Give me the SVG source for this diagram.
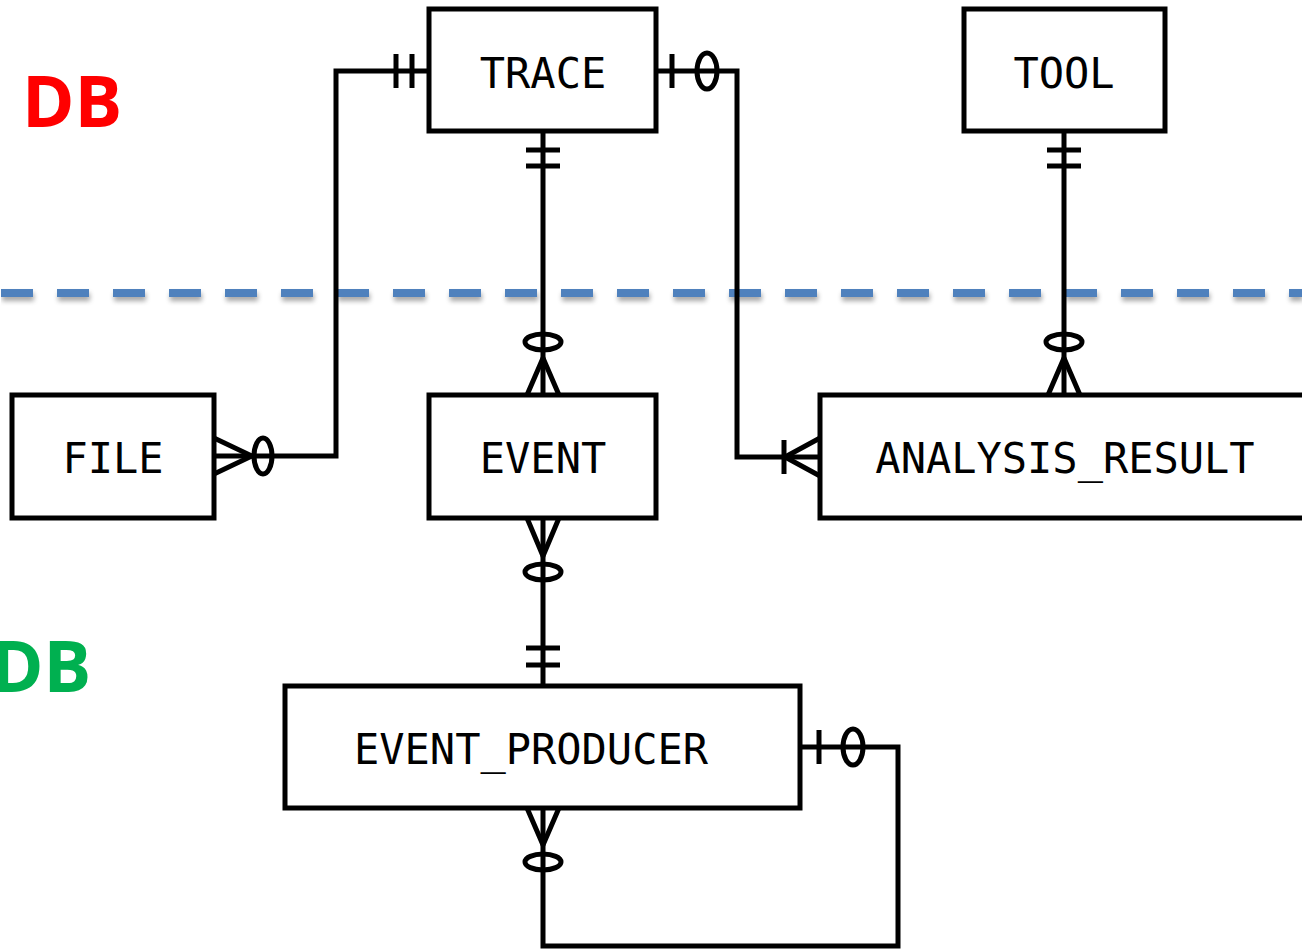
<svg xmlns="http://www.w3.org/2000/svg" width="1302" height="951" viewBox="0 0 1302 951">
<style>
.box{fill:#fff;stroke:#000;stroke-width:5}
.lbl{font-family:"DejaVu Sans Mono",monospace;font-size:42px;fill:#000;text-anchor:middle}
.ln{fill:none;stroke:#000;stroke-width:5}
.db{font-family:"Open Sans","Liberation Sans",sans-serif;font-weight:bold;font-size:71px}
</style>
<defs>
<filter id="sh" filterUnits="userSpaceOnUse" x="0" y="270" width="1302" height="50">
<feGaussianBlur in="SourceAlpha" stdDeviation="2.5"/>
<feOffset dx="1" dy="4" result="b"/>
<feComponentTransfer><feFuncA type="linear" slope="0.35"/></feComponentTransfer>
<feMerge><feMergeNode/><feMergeNode in="SourceGraphic"/></feMerge>
</filter>
</defs>
<rect width="1302" height="951" fill="#fff"/>
<line x1="1" y1="293" x2="1302" y2="293" stroke="#4F81BD" stroke-width="8" stroke-dasharray="32 24" filter="url(#sh)"/>
<text class="db" x="22" y="127" fill="#FF0000">DB</text>
<text class="db" x="-9" y="692" fill="#00B050">DB</text>
<g id="connectors" class="ln">
<polyline points="429,71 336,71 336,456 214,456"/>
<line x1="396" y1="54" x2="396" y2="88"/>
<line x1="412" y1="54" x2="412" y2="88"/>
<polyline points="214,438 252,456 214,474"/>
<ellipse cx="263" cy="456" rx="9" ry="18"/>
<polyline points="656,71 737,71 737,457 820,457"/>
<line x1="672" y1="54" x2="672" y2="88"/>
<ellipse cx="707" cy="71" rx="10" ry="18"/>
<line x1="784" y1="440" x2="784" y2="474"/>
<polyline points="820,438 785,457 820,476"/>
<line x1="543" y1="131" x2="543" y2="395"/>
<line x1="526" y1="150" x2="560" y2="150"/>
<line x1="526" y1="166" x2="560" y2="166"/>
<ellipse cx="543" cy="342" rx="18" ry="8"/>
<polyline points="527,395 543,358 559,395"/>
<line x1="1064" y1="131" x2="1064" y2="395"/>
<line x1="1047" y1="150" x2="1081" y2="150"/>
<line x1="1047" y1="166" x2="1081" y2="166"/>
<ellipse cx="1064" cy="342" rx="18" ry="8"/>
<polyline points="1048,395 1064,358 1080,395"/>
<line x1="543" y1="518" x2="543" y2="686"/>
<polyline points="527,518 543,556 559,518"/>
<ellipse cx="543" cy="572" rx="18" ry="8"/>
<line x1="526" y1="648" x2="560" y2="648"/>
<line x1="526" y1="665" x2="560" y2="665"/>
<polyline points="800,747 898,747 898,946 543,946 543,808"/>
<line x1="819" y1="730" x2="819" y2="764"/>
<ellipse cx="853" cy="747" rx="10" ry="18"/>
<polyline points="527,808 543,845 559,808"/>
<ellipse cx="543" cy="862" rx="18" ry="8"/>
</g>
<g id="TRACE"><rect class="box" x="429" y="9" width="227" height="122"/><text class="lbl" x="543" y="88">TRACE</text></g>
<g id="TOOL"><rect class="box" x="964" y="9" width="201" height="122"/><text class="lbl" x="1064" y="88">TOOL</text></g>
<g id="FILE"><rect class="box" x="12" y="395" width="202" height="123"/><text class="lbl" x="113" y="473">FILE</text></g>
<g id="EVENT"><rect class="box" x="429" y="395" width="227" height="123"/><text class="lbl" x="543" y="473">EVENT</text></g>
<g id="ANALYSIS_RESULT"><rect class="box" x="820" y="395" width="490" height="123"/><text class="lbl" x="1065" y="473">ANALYSIS_RESULT</text></g>
<g id="EVENT_PRODUCER"><rect class="box" x="285" y="686" width="515" height="122"/><text class="lbl" x="531" y="764">EVENT_PRODUCER</text></g>
</svg>
